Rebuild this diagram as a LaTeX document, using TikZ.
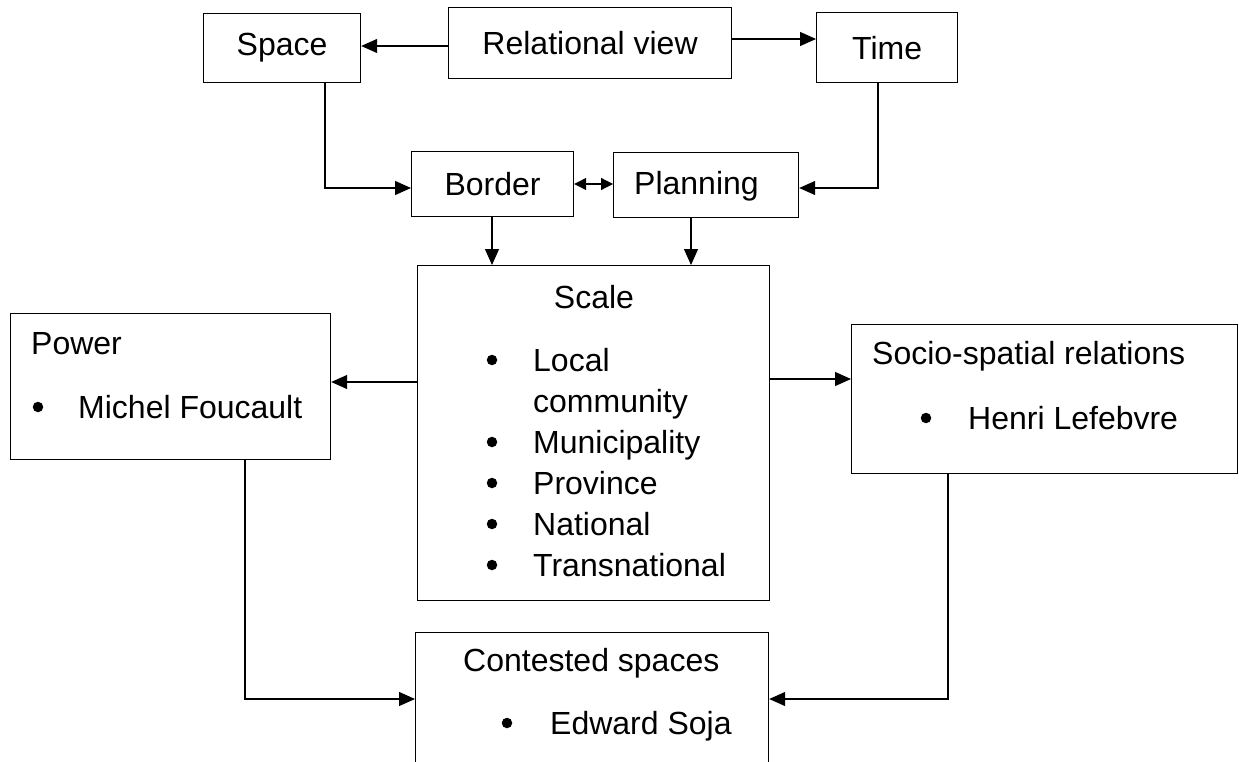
\documentclass[tikz,border=0pt]{standalone}
\usepackage{fontspec}
\setmainfont{Liberation Sans}
\usetikzlibrary{arrows.meta}
\begin{document}
\begin{tikzpicture}[x=1pt,y=-1pt,
  box/.style={draw, line width=1.2pt, inner sep=0pt, anchor=north west,
    font=\fontsize{32}{41}\selectfont},
  lbl/.style={inner sep=0pt, anchor=base west, font=\fontsize{32}{41}\selectfont},
  dot/.style={circle, fill, inner sep=0pt, minimum size=10.5pt},
  arr/.style={line width=1.2pt, -{Triangle[length=16pt,width=14pt]}},
  darr/.style={line width=1.2pt, {Triangle[length=12pt,width=12pt]}-{Triangle[length=12pt,width=12pt]}}]
\clip (0,0) rectangle (1239,762);
\fill[white] (0,0) rectangle (1239,762);

% top row
\node[box, minimum width=157pt, minimum height=69pt] (space) at (203,13) {Space};
\node[box, minimum width=283pt, minimum height=71pt] (rel) at (448,7) {Relational view};
\node[box, minimum width=141pt, minimum height=70pt] (time) at (816,12) {Time};

% second row
\node[box, minimum width=162pt, minimum height=65pt] (border) at (411,151) {Border};
\node[box, minimum width=185pt, minimum height=65pt] (planning) at (613,152) {};
\node[lbl] (planningt) at (634,195) {Planning};

% scale box
\node[box, minimum width=352pt, minimum height=335pt] (scale) at (417,265) {};
\node[inner sep=0pt, anchor=base, font=\fontsize{32}{41}\selectfont] (scalet) at (594,308) {Scale};
\node[dot] (s1) at (492,360) {};
\node[lbl] (l1) at (533,371) {Local};
\node[lbl] (l1b) at (533,412) {community};
\node[dot] (s2) at (492,442) {};
\node[lbl] (l2) at (533,453) {Municipality};
\node[dot] (s3) at (492,483) {};
\node[lbl] (l3) at (533,494) {Province};
\node[dot] (s4) at (492,524) {};
\node[lbl] (l4) at (533,535) {National};
\node[dot] (s5) at (492,565) {};
\node[lbl] (l5) at (533,576) {Transnational};

% power box
\node[box, minimum width=320pt, minimum height=146pt] (power) at (10,313) {};
\node[lbl] (powert) at (31,354) {Power};
\node[dot] (p1) at (38,407) {};
\node[lbl] (p1t) at (78,418) {Michel Foucault};

% socio-spatial box
\node[box, minimum width=386pt, minimum height=149pt] (socio) at (851,324) {};
\node[lbl] (sociot) at (872,364) {Socio-spatial relations};
\node[dot] (q1) at (926,418) {};
\node[lbl] (q1t) at (968,429) {Henri Lefebvre};

% contested spaces box (runs past the lower edge)
\node[box, minimum width=353pt, minimum height=220pt] (contested) at (415,632) {};
\node[lbl] (contt) at (463,671) {Contested spaces};
\node[dot] (c1) at (507,723) {};
\node[lbl] (c1t) at (550,734) {Edward Soja};

% connectors
\draw[arr] (rel.west |- 0,46) -- (space.east |- 0,46);
\draw[arr] (rel.east |- 0,39) -- (time.west |- 0,39);
\draw[arr] (space.south -| 325,0) |- (border.west |- 0,188);
\draw[arr] (time.south -| 878,0) |- (planning.east |- 0,188);
\draw[darr] (border.east |- 0,184) -- (planning.west |- 0,184);
\draw[arr] (border.south -| 492,0) -- (scale.north -| 492,0);
\draw[arr] (planning.south -| 691,0) -- (scale.north -| 691,0);
\draw[arr] (scale.west |- 0,382) -- (power.east |- 0,382);
\draw[arr] (scale.east |- 0,379) -- (socio.west |- 0,379);
\draw[arr] (power.south -| 245,0) |- (contested.west |- 0,699);
\draw[arr] (socio.south -| 948,0) |- (contested.east |- 0,699);
\end{tikzpicture}
\end{document}
